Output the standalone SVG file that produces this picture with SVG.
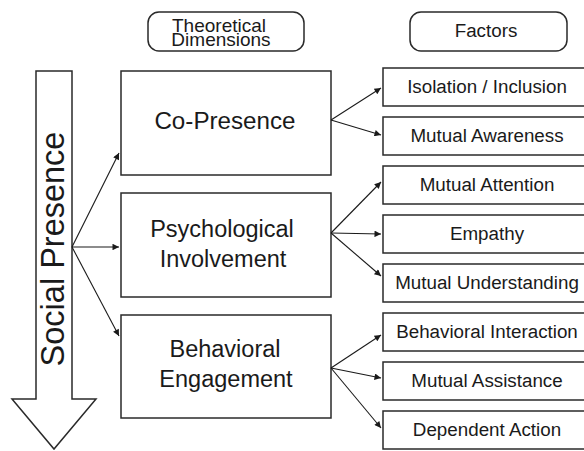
<svg xmlns="http://www.w3.org/2000/svg" width="584" height="451" viewBox="0 0 584 451">
<style>
.box{fill:#fff;stroke:#2a2a2a;stroke-width:1.5}
.t{font-family:"Liberation Sans",Arial,sans-serif;fill:#1a1a1a;text-anchor:middle}
.f{font-size:18.8px}
.m{font-size:23.5px}
.c{stroke:#1a1a1a;stroke-width:1.1;fill:none;marker-end:url(#ah)}
</style>
<defs>
<marker id="ah" viewBox="0 0 10 10" refX="10" refY="5" markerWidth="10" markerHeight="6.5" markerUnits="userSpaceOnUse" orient="auto">
<path d="M0,0 L10,5 L0,10 Z" fill="#1a1a1a"/>
</marker>
</defs>
<rect width="584" height="451" fill="#fff"/>
<g id="hdr-dimensions">
<rect class="box" x="148" y="12" width="156" height="39" rx="11"/>
<text class="t" x="219" y="32" font-size="19">Theoretical</text>
<text class="t" x="221" y="46" font-size="19">Dimensions</text>
</g>
<g id="hdr-factors">
<rect class="box" x="410" y="12" width="157" height="39" rx="11"/>
<text class="t f" x="486" y="37">Factors</text>
</g>
<g id="social-presence">
<path class="box" d="M36,71 H72 V399 H96 L54,449 L12,399 H36 Z"/>
<text class="t" font-size="32.5" transform="translate(64,249) rotate(-90)">Social Presence</text>
</g>
<g id="co-presence">
<rect class="box" x="121" y="71" width="210" height="104"/>
<text class="t" x="225" y="129" font-size="24.2">Co-Presence</text>
</g>
<g id="psychological-involvement">
<rect class="box" x="121" y="193" width="210" height="104"/>
<text class="t m" x="222" y="237">Psychological</text>
<text class="t m" x="223" y="267">Involvement</text>
</g>
<g id="behavioral-engagement">
<rect class="box" x="121" y="315" width="210" height="103"/>
<text class="t m" x="225" y="357">Behavioral</text>
<text class="t m" x="226" y="387">Engagement</text>
</g>
<g id="f-isolation"><rect class="box" x="383" y="68" width="210" height="38"/><text class="t f" x="487" y="93">Isolation / Inclusion</text></g>
<g id="f-awareness"><rect class="box" x="383" y="117" width="210" height="38"/><text class="t f" x="487" y="142">Mutual Awareness</text></g>
<g id="f-attention"><rect class="box" x="383" y="166" width="210" height="38"/><text class="t f" x="487" y="191">Mutual Attention</text></g>
<g id="f-empathy"><rect class="box" x="383" y="215" width="210" height="38"/><text class="t f" x="487" y="240">Empathy</text></g>
<g id="f-understanding"><rect class="box" x="383" y="264" width="210" height="38"/><text class="t f" x="487" y="289">Mutual Understanding</text></g>
<g id="f-interaction"><rect class="box" x="383" y="313" width="210" height="38"/><text class="t f" x="487" y="338">Behavioral Interaction</text></g>
<g id="f-assistance"><rect class="box" x="383" y="362" width="210" height="38"/><text class="t f" x="487" y="387">Mutual Assistance</text></g>
<g id="f-dependent"><rect class="box" x="383" y="411" width="210" height="38"/><text class="t f" x="487" y="436">Dependent Action</text></g>
<g id="connectors">
<path class="c" d="M72,247 L119,153"/>
<path class="c" d="M72,247 L119,247"/>
<path class="c" d="M72,247 L119,336"/>
<path class="c" d="M331,120 L381,88"/>
<path class="c" d="M331,120 L381,135"/>
<path class="c" d="M331,233 L381,182"/>
<path class="c" d="M331,233 L381,234"/>
<path class="c" d="M331,233 L381,276"/>
<path class="c" d="M331,368 L381,335"/>
<path class="c" d="M331,368 L381,378"/>
<path class="c" d="M331,368 L381,428"/>
</g>
</svg>
